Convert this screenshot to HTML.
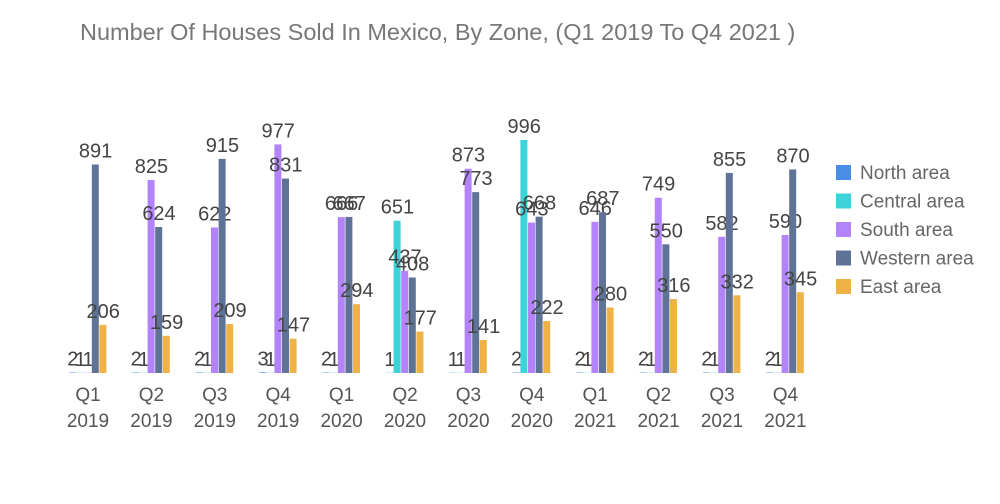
<!DOCTYPE html>
<html><head><meta charset="utf-8">
<style>
html,body{margin:0;padding:0;background:#fff;}
svg{display:block;font-family:"Liberation Sans",sans-serif;}
</style></head>
<body>
<svg id="chart" width="1000" height="504">
<text x="80" y="40" font-size="23.5" fill="#777">Number Of Houses Sold In Mexico, By Zone, (Q1 2019 To Q4 2021 )</text>
<g id="bars"></g>
<g id="xaxis"></g>
<g id="legend"></g>
</svg>
<script>
const quarters = ["Q1","Q2","Q3","Q4","Q1","Q2","Q3","Q4","Q1","Q2","Q3","Q4"];
const years = ["2019","2019","2019","2019","2020","2020","2020","2020","2021","2021","2021","2021"];
const seriesNames = ["North area","Central area","South area","Western area","East area"];
const north   = [2,2,2,3,2,1,1,2,2,2,2,2];
const central = [1,1,1,1,1,651,1,996,1,1,1,1];
const south   = [1,825,622,977,666,437,873,643,646,749,582,590];
const western = [891,624,915,831,667,408,773,668,687,550,855,870];
const east    = [206,159,209,147,294,177,141,222,280,316,332,345];
const series = [north, central, south, western, east];
const colors = ["#4a8fe7","#3dd3d9","#b283fa","#5f7396","#eeb246"];

const NS = "http://www.w3.org/2000/svg";
const baseY = 373, pxPerUnit = 0.234;
const firstCenter = 88, groupStep = 63.4, barW = 7.6;
const yScale = v => baseY - v * pxPerUnit;
const xCenter = i => firstCenter + i * groupStep;
const barX = (i, s) => xCenter(i) - 2.5 * barW + s * barW;

function mk(tag, attrs, parent) {
  const el = document.createElementNS(NS, tag);
  for (const k in attrs) el.setAttribute(k, attrs[k]);
  parent.appendChild(el);
  return el;
}
const barsG = document.getElementById("bars");
const axisG = document.getElementById("xaxis");
const legG = document.getElementById("legend");

series.forEach((vals, s) => {
  vals.forEach((v, i) => {
    const y = yScale(v);
    const r = mk("rect", {x: barX(i, s), y: y, width: barW - 0.6, height: baseY - y, fill: colors[s]}, barsG);
    
    
    const t = mk("text", {x: barX(i, s) + barW / 2, y: y - 7, "font-size": 20, fill: "#444", "text-anchor": "middle"}, barsG);
    t.textContent = v;
    
    
  });
});

quarters.forEach((q, i) => {
  const t1 = mk("text", {x: xCenter(i), y: 401, "font-size": 19, fill: "#555", "text-anchor": "middle"}, axisG);
  t1.textContent = q;
  
  
  const t2 = mk("text", {x: xCenter(i), y: 427, "font-size": 19, fill: "#555", "text-anchor": "middle"}, axisG);
  t2.textContent = years[i];
  
  
});

seriesNames.forEach((n, s) => {
  const cy = 172 + s * 28.5;
  const g = mk("g", {}, legG);
  
  
  mk("rect", {x: 836, y: cy - 7, width: 15, height: 15, fill: colors[s]}, g);
  const t = mk("text", {x: 860, y: cy + 7, "font-size": 19, fill: "#666"}, g);
  t.textContent = n;
});
</script>
</body></html>
